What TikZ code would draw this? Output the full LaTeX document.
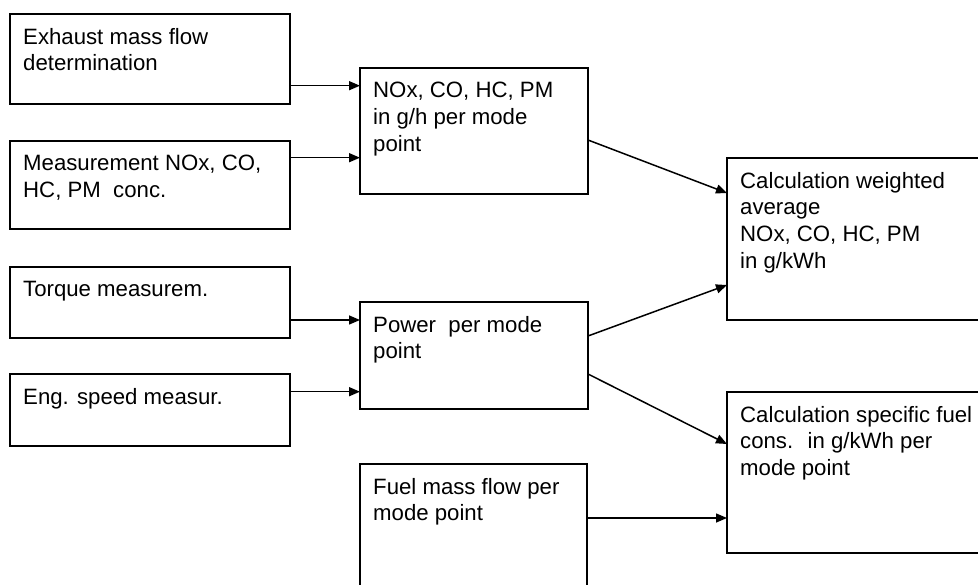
\documentclass[tikz,border=0pt]{standalone}
\usepackage{fontspec}
\setmainfont{Liberation Sans}
\usetikzlibrary{arrows.meta}

\tikzset{
  box/.style={draw, line width=1.6pt, inner sep=0pt, outer sep=0pt, anchor=north west},
  lbl/.style={anchor=north west, inner sep=0pt, align=left,
              font=\fontsize{22.2}{26.7}\selectfont},
  arr/.style={line width=1.5pt, -{Triangle[length=11pt,width=9pt]}},
}

\begin{document}
\begin{tikzpicture}[x=1pt, y=-1pt]
  \useasboundingbox (0,0) rectangle (978,585);
  \clip (0,0) rectangle (978,585);

  % input boxes on the left
  \node[box, minimum width=280pt, minimum height=90pt] (b1) at (10,14) {};
  \node[box, minimum width=280pt, minimum height=88pt] (b2) at (10,141) {};
  \node[box, minimum width=280pt, minimum height=71pt] (b3) at (10,267) {};
  \node[box, minimum width=280pt, minimum height=72pt] (b4) at (10,374) {};

  % intermediate results
  \node[box, minimum width=228pt, minimum height=126pt] (b5) at (360,68) {};
  \node[box, minimum width=228pt, minimum height=107pt] (b6) at (360,302) {};
  \node[box, minimum width=227pt, minimum height=140pt] (b7) at (360,464) {};

  % final calculations
  \node[box, minimum width=280pt, minimum height=162pt] (b8) at (727,158) {};
  \node[box, minimum width=280pt, minimum height=161pt] (b9) at (727,392) {};

  % labels
  \node[lbl] (t1) at ([shift={(13pt,-14pt)}]b1.north west) {Exhaust mass flow\\determination};
  \node[lbl] (t2) at ([shift={(13pt,-14pt)}]b2.north west) {Measurement NOx, CO,\\HC, PM~ conc.};
  \node[lbl] (t3) at ([shift={(13pt,-14pt)}]b3.north west) {Torque measurem.};
  \node[lbl] (t4) at ([shift={(13pt,-14pt)}]b4.north west) {Eng. speed measur.};
  \node[lbl] (t5) at ([shift={(13pt,-14pt)}]b5.north west) {NOx, CO, HC, PM\\in g/h per mode\\point};
  \node[lbl] (t6) at ([shift={(13pt,-14pt)}]b6.north west) {Power~ per mode\\point};
  \node[lbl] (t7) at ([shift={(13pt,-14pt)}]b7.north west) {Fuel mass flow per\\mode point};
  \node[lbl] (t8) at ([shift={(13pt,-14pt)}]b8.north west) {Calculation weighted\\average\\NOx, CO, HC, PM\\in g/kWh};
  \node[lbl] (t9) at ([shift={(13pt,-14pt)}]b9.north west) {Calculation specific fuel\\cons.~ in g/kWh per\\mode point};

  % connectors
  \draw[arr] (b1.east |- 0,85.7)  -- (b5.west |- 0,85.7);
  \draw[arr] (b2.east |- 0,157.7) -- (b5.west |- 0,157.7);
  \draw[arr] (b3.east |- 0,320)   -- (b6.west |- 0,320);
  \draw[arr] (b4.east |- 0,391.7) -- (b6.west |- 0,391.7);
  \draw[arr] (b5.east |- 0,140)   -- (b8.west |- 0,193);
  \draw[arr] (b6.east |- 0,336)   -- (b8.west |- 0,285);
  \draw[arr] (b6.east |- 0,374)   -- (b9.west |- 0,444);
  \draw[arr] (b7.east |- 0,518)   -- (b9.west |- 0,518);
\end{tikzpicture}
\end{document}
